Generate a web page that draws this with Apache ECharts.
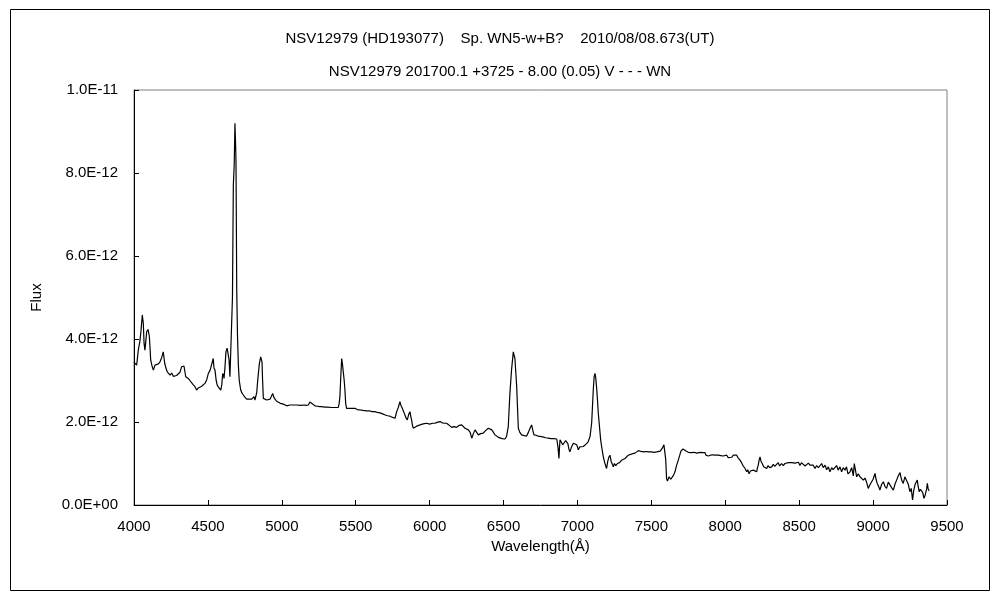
<!DOCTYPE html>
<html>
<head>
<meta charset="utf-8">
<script src="https://cdn.jsdelivr.net/npm/echarts@6/dist/echarts.min.js"></script>
<style>
html,body{margin:0;padding:0;background:#fff;}
#chart{width:1000px;height:600px;}
</style>
</head>
<body>
<div id="chart"></div>
<script>
// Wavelength in Å
var wavelengths = [4000,4010,4018,4029,4040,4047,4056,4063,4068,4074,4080,4086,4095,4104,4113,4122,4131,4142,4154,4165,4176,4187,4198,4208,4216,4225,4234,4244,4255,4266,4277,4288,4300,4311,4322,4338,4350,4358,4367,4378,4390,4400,4412,4424,4435,4446,4458,4470,4480,4492,4503,4515,4525,4536,4541,4548,4556,4563,4575,4587,4594,4600,4606,4609,4615,4622,4630,4638,4643,4649,4655,4661,4666,4672,4678,4683,4688,4690,4695,4700,4706,4712,4722,4730,4740,4750,4762,4780,4796,4805,4812,4818,4830,4837,4848,4857,4866,4870,4875,4886,4898,4910,4920,4930,4938,4946,4954,4965,4976,4990,5000,5010,5020,5033,5044,5055,5065,5078,5089,5100,5112,5130,5150,5165,5179,5190,5197,5210,5224,5240,5255,5270,5290,5310,5337,5360,5382,5388,5393,5399,5405,5410,5416,5422,5427,5432,5438,5460,5480,5495,5510,5528,5550,5574,5590,5600,5610,5630,5645,5664,5675,5686,5700,5716,5732,5750,5766,5777,5788,5799,5806,5815,5824,5833,5840,5849,5858,5867,5873,5878,5884,5889,5900,5912,5920,5935,5950,5965,5980,6000,6020,6036,6050,6060,6070,6085,6100,6115,6130,6149,6165,6183,6200,6217,6228,6239,6250,6262,6274,6285,6296,6307,6318,6330,6345,6363,6375,6385,6397,6408,6420,6430,6442,6455,6465,6476,6490,6500,6510,6520,6532,6543,6554,6566,6572,6577,6583,6589,6595,6600,6610,6622,6640,6656,6668,6679,6690,6698,6706,6720,6735,6746,6765,6785,6803,6820,6840,6860,6868,6875,6878,6882,6890,6900,6910,6920,6927,6935,6942,6949,6960,6972,6985,6995,7000,7006,7015,7028,7040,7050,7062,7073,7085,7096,7102,7107,7113,7119,7124,7130,7136,7141,7150,7157,7166,7175,7186,7197,7205,7212,7220,7228,7236,7243,7250,7260,7270,7276,7285,7292,7299,7310,7322,7333,7344,7360,7375,7389,7400,7412,7430,7450,7465,7480,7500,7520,7535,7547,7560,7574,7585,7592,7597,7603,7609,7615,7620,7626,7632,7641,7650,7660,7670,7682,7692,7700,7705,7714,7723,7735,7750,7770,7790,7805,7818,7830,7845,7855,7863,7870,7885,7900,7915,7930,7942,7955,7970,7985,7998,8010,8020,8030,8043,8055,8065,8077,8088,8100,8110,8120,8134,8145,8152,8161,8170,8180,8190,8200,8212,8218,8223,8230,8235,8242,8250,8260,8270,8280,8290,8300,8314,8325,8335,8347,8358,8368,8381,8392,8404,8415,8426,8438,8449,8460,8472,8483,8495,8505,8515,8528,8540,8550,8562,8573,8585,8595,8607,8618,8630,8641,8652,8663,8675,8686,8697,8708,8720,8730,8742,8753,8764,8776,8787,8798,8810,8820,8830,8844,8855,8866,8873,8880,8889,8900,8911,8922,8934,8945,8956,8967,8978,8990,9000,9013,9020,9028,9037,9046,9058,9069,9080,9091,9103,9114,9125,9137,9148,9159,9170,9182,9193,9204,9215,9227,9238,9249,9258,9267,9275,9283,9291,9299,9305,9312,9320,9328,9336,9344,9351,9358,9363,9367,9373,9380];
// Flux in units of 1E-12
var fluxE12 = [3.44,3.40,3.37,3.73,3.95,4.18,4.58,4.38,3.90,3.73,3.95,4.18,4.23,4.06,3.49,3.35,3.25,3.37,3.33,3.40,3.45,3.55,3.69,3.41,3.30,3.21,3.18,3.13,3.18,3.10,3.13,3.12,3.08,3.20,3.33,3.35,3.09,3.12,3.05,3.00,2.97,2.90,2.85,2.77,2.82,2.84,2.86,2.90,2.93,3.02,3.17,3.25,3.29,3.53,3.30,3.25,3.00,2.89,2.82,2.77,2.90,3.17,3.12,3.05,3.30,3.69,3.78,3.81,3.50,3.09,3.10,3.13,4.98,7.71,8.20,9.20,8.60,8.27,5.18,4.10,3.37,3.00,2.77,2.70,2.65,2.60,2.55,2.55,2.55,2.56,2.61,2.53,2.70,3.01,3.40,3.57,3.45,3.00,2.57,2.55,2.53,2.52,2.55,2.62,2.69,2.60,2.55,2.50,2.47,2.45,2.44,2.43,2.41,2.39,2.42,2.41,2.40,2.41,2.39,2.41,2.41,2.40,2.41,2.40,2.41,2.48,2.51,2.43,2.39,2.38,2.37,2.37,2.36,2.36,2.35,2.35,2.35,2.45,2.61,3.10,3.53,3.40,3.37,3.00,2.77,2.45,2.33,2.33,2.33,2.33,2.30,2.29,2.28,2.27,2.27,2.29,2.25,2.25,2.23,2.22,2.22,2.19,2.17,2.15,2.14,2.11,2.09,2.25,2.35,2.49,2.40,2.33,2.25,2.17,2.10,2.05,2.18,2.25,2.12,2.05,1.92,1.85,1.88,1.90,1.93,1.93,1.95,1.96,1.97,1.95,1.97,1.97,1.99,1.97,2.01,1.98,1.97,1.97,1.93,1.87,1.89,1.87,1.92,1.93,1.90,1.85,1.86,1.81,1.75,1.61,1.72,1.81,1.75,1.69,1.72,1.73,1.78,1.82,1.85,1.85,1.81,1.76,1.69,1.65,1.63,1.61,1.60,1.60,1.59,1.65,1.89,2.69,3.25,3.69,3.60,3.53,3.20,2.85,2.30,1.85,1.75,1.69,1.67,1.66,1.75,1.85,1.93,1.80,1.69,1.68,1.66,1.65,1.64,1.62,1.61,1.60,1.60,1.59,1.40,1.12,1.35,1.57,1.52,1.45,1.50,1.55,1.57,1.48,1.35,1.28,1.40,1.49,1.50,1.45,1.40,1.33,1.40,1.41,1.41,1.45,1.48,1.53,1.65,1.97,2.40,2.77,3.10,3.17,3.05,2.81,2.50,2.21,1.85,1.57,1.35,1.16,1.00,0.88,1.05,1.15,1.20,1.05,0.98,0.92,1.00,0.95,1.00,0.96,1.02,0.98,1.08,1.05,1.12,1.15,1.20,1.22,1.24,1.25,1.29,1.31,1.29,1.28,1.29,1.28,1.28,1.27,1.28,1.27,1.30,1.37,1.45,1.49,1.10,0.64,0.58,0.56,0.68,0.72,0.62,0.64,0.72,0.80,0.95,1.08,1.20,1.30,1.33,1.35,1.34,1.30,1.27,1.26,1.27,1.25,1.25,1.27,1.26,1.29,1.26,1.20,1.18,1.20,1.21,1.20,1.22,1.20,1.19,1.18,1.18,1.20,1.14,1.18,1.15,1.20,1.17,1.20,1.13,1.08,1.02,0.95,0.88,0.80,0.85,0.75,0.82,0.80,0.84,0.88,0.80,0.90,0.96,1.10,1.16,1.05,1.00,0.92,0.88,0.88,0.95,0.90,0.92,0.98,0.93,0.96,1.02,0.94,1.00,0.95,1.00,0.96,1.02,1.04,1.02,0.98,1.01,0.99,1.03,0.95,1.02,1.00,0.94,0.98,1.01,0.96,0.92,0.96,0.88,0.95,0.90,0.92,1.00,0.90,0.96,0.85,0.92,0.80,0.90,0.85,0.88,0.95,0.84,0.92,0.80,0.90,0.84,0.92,0.75,0.80,0.90,0.70,1.00,0.85,0.68,0.75,0.68,0.72,0.60,0.65,0.55,0.40,0.48,0.52,0.62,0.76,0.62,0.52,0.45,0.36,0.50,0.56,0.45,0.40,0.55,0.52,0.42,0.36,0.50,0.60,0.70,0.78,0.60,0.52,0.68,0.72,0.50,0.32,0.40,0.12,0.35,0.48,0.55,0.60,0.45,0.32,0.38,0.40,0.30,0.16,0.22,0.24,0.40,0.52,0.38,0.34];
var yTickLabels = ['0.0E+00','2.0E-12','4.0E-12','6.0E-12','8.0E-12','1.0E-11'];
var titleLine1 = 'NSV12979 (HD193077)    Sp. WN5-w+B?    2010/08/08.673(UT)';
var titleLine2 = 'NSV12979 201700.1 +3725 - 8.00 (0.05) V - - - WN';

var seriesData = wavelengths.map(function(w, i){ return [w, fluxE12[i]]; });
var font = 'Liberation Sans, Noto Sans, sans-serif';

var chart = echarts.init(document.getElementById('chart'), null, {renderer:'canvas'});
chart.setOption({
  animation: false,
  backgroundColor: '#fff',
  title: [
    {text: titleLine1, left: 'center', top: 26, textStyle:{fontSize:15, fontWeight:'normal', color:'#000', fontFamily:font}},
    {text: titleLine2, left: 'center', top: 59, textStyle:{fontSize:15, fontWeight:'normal', color:'#000', fontFamily:font}}
  ],
  graphic: [{
    type:'rect', shape:{x:10.5, y:9.5, width:979, height:581},
    style:{fill:'none', stroke:'#000', lineWidth:1}, silent:true, z:-1
  }],
  grid: {left:134, right:53, top:90, bottom:95, show:true, borderColor:'#808080', borderWidth:1, backgroundColor:'#fff'},
  xAxis: {
    type:'value', min:4000, max:9500, interval:500,
    name:'Wavelength(Å)', nameLocation:'middle', nameGap:30,
    nameTextStyle:{fontSize:15, color:'#000', fontFamily:font},
    axisLine:{show:true, lineStyle:{color:'#000', width:1}},
    axisTick:{show:true, inside:true, length:5, lineStyle:{color:'#000'}},
    axisLabel:{fontSize:15, color:'#000', fontFamily:font, margin:14,
      formatter:function(v){ return String(v); }},
    splitLine:{show:false}
  },
  yAxis: {
    type:'value', min:0, max:10, interval:2,
    name:'Flux', nameLocation:'middle', nameGap:90, nameRotate:90,
    nameTextStyle:{fontSize:15, color:'#000', fontFamily:font},
    axisLine:{show:true, lineStyle:{color:'#000', width:1}},
    axisTick:{show:true, inside:true, length:5, lineStyle:{color:'#000'}},
    axisLabel:{fontSize:15, color:'#000', fontFamily:font, margin:16,
      formatter:function(v){ return yTickLabels[Math.round(v/2)]; }},
    splitLine:{show:false}
  },
  series: [{
    type:'line', data:seriesData, showSymbol:false, symbol:'none',
    lineStyle:{color:'#000', width:1.2}, smooth:false, z:3
  }]
});
</script>
</body>
</html>
